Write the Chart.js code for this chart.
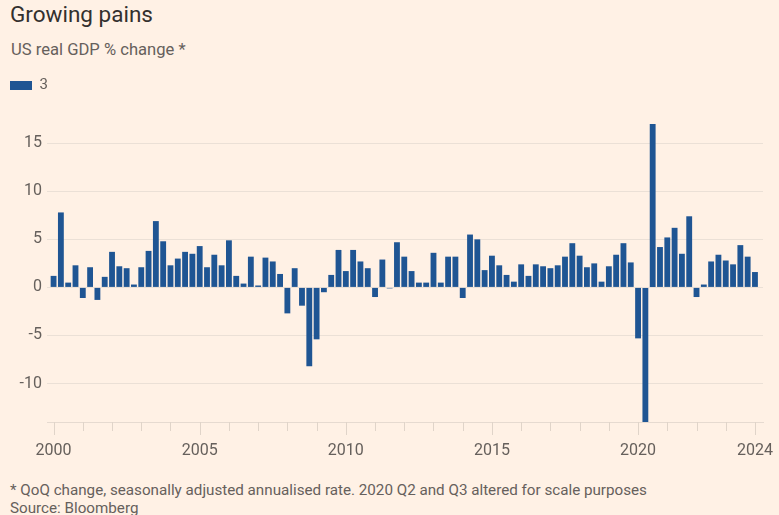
<!DOCTYPE html>
<html><head><meta charset="utf-8">
<script src="https://cdn.jsdelivr.net/npm/chart.js@4.4.1/dist/chart.umd.min.js"></script>
<style>
html,body{margin:0;padding:0;background:#fff1e5;}
body{width:779px;height:515px;overflow:hidden;position:relative;font-family:Roboto,"Noto Sans",sans-serif;}
#title{position:absolute;left:10px;top:1px;font-size:22.5px;color:#33302e;white-space:nowrap;}
#subtitle{position:absolute;left:11px;top:40px;font-size:16.6px;color:#66605c;white-space:nowrap;}
#chartbox{position:absolute;left:0;top:68px;width:779px;height:400px;}
#note{position:absolute;left:10px;top:481px;font-size:15.2px;color:#66605c;line-height:18px;white-space:nowrap;}
</style></head>
<body>
<div id="title">Growing pains</div>
<div id="subtitle">US real GDP % change *</div>
<div id="chartbox"><canvas id="c"></canvas></div>
<div id="note">* QoQ change, seasonally adjusted annualised rate. 2020 Q2 and Q3 altered for scale purposes<br>Source: Bloomberg</div>
<script>
// Quarterly categories 2000 Q1 .. 2024 Q1
const years = [2000,2001,2002,2003,2004,2005,2006,2007,2008,2009,2010,2011,2012,2013,2014,2015,2016,2017,2018,2019,2020,2021,2022,2023,2024];
const quarters = ['Q1','Q2','Q3','Q4'];
const categories = [];
years.forEach(y => quarters.forEach(q => { if (!(y === 2024 && q !== 'Q1')) categories.push(y + ' ' + q); }));

// US real GDP, QoQ annualised % change
const gdp = [
  1.2, 7.8, 0.5, 2.3,     // 2000
  -1.1, 2.1, -1.3, 1.1,   // 2001
  3.7, 2.2, 2.0, 0.3,     // 2002
  2.1, 3.8, 6.9, 4.8,     // 2003
  2.3, 3.0, 3.7, 3.5,     // 2004
  4.3, 2.1, 3.4, 2.3,     // 2005
  4.9, 1.2, 0.4, 3.2,     // 2006
  0.2, 3.1, 2.7, 1.4,     // 2007
  -2.7, 2.0, -1.9, -8.2,  // 2008
  -5.4, -0.5, 1.3, 3.9,   // 2009
  1.7, 3.9, 2.7, 2.0,     // 2010
  -1.0, 2.9, -0.1, 4.7,   // 2011
  3.2, 1.7, 0.5, 0.5,     // 2012
  3.6, 0.5, 3.2, 3.2,     // 2013
  -1.1, 5.5, 5.0, 1.8,    // 2014
  3.3, 2.3, 1.3, 0.6,     // 2015
  2.4, 1.2, 2.4, 2.2,     // 2016
  2.0, 2.3, 3.2, 4.6,     // 2017
  3.3, 2.1, 2.5, 0.6,     // 2018
  2.2, 3.4, 4.6, 2.6,     // 2019
  -5.3, -14.0, 17.0, 4.2, // 2020 (Q2, Q3 altered for scale)
  5.2, 6.2, 3.5, 7.4,     // 2021
  -1.0, 0.3, 2.7, 3.4,    // 2022
  2.8, 2.4, 4.4, 3.2,     // 2023
  1.6                     // 2024
];
const seriesLabel = '3';
const yTicks = [-10, -5, 0, 5, 10, 15];
const xTickLabels = ['2000', '2005', '2010', '2015', '2020', '2024'];

const barColor = '#1f5593';
const gridColor = '#ebe0d6';
const tickColor = '#e0d4c9';
const textColor = '#66605c';

function labelFor(v) {
  const c = categories[v];
  if (!c) return '';
  const y = c.slice(0, 4);
  return xTickLabels.includes(y) ? y : '';
}

// legend spacing + year tick marks on the x scale (longer for labelled years)
const yearTicks = {
  id: 'yearTicks',
  beforeInit(chart) {
    const lg = chart.legend;
    if (lg) {
      const fit = lg.fit;
      lg.fit = function () { fit.call(this); this.height += 21; };
    }
  },
  afterDraw(chart) {
    const s = chart.scales.x, ctx = chart.ctx;
    ctx.save();
    ctx.strokeStyle = tickColor;
    ctx.lineWidth = 1;
    s.ticks.forEach(t => {
      const px = Math.round(s.getPixelForValue(t.value)) + 0.5;
      const len = labelFor(t.value) ? 13 : 9;
      ctx.beginPath();
      ctx.moveTo(px, s.top);
      ctx.lineTo(px, s.top + len);
      ctx.stroke();
    });
    ctx.restore();
  }
};

new Chart(document.getElementById('c'), {
  type: 'bar',
  data: {
    labels: categories,
    datasets: [{
      label: seriesLabel,
      data: gdp.map((v, i) => ({ x: i, y: v })),
      backgroundColor: barColor,
      borderWidth: 0,
      barPercentage: 0.8,
      categoryPercentage: 1.0
    }]
  },
  plugins: [yearTicks],
  options: {
    responsive: true,
    maintainAspectRatio: false,
    animation: false,
    layout: { padding: { left: 0, right: 16, top: 0, bottom: 0 } },
    plugins: {
      legend: {
        display: true,
        position: 'top',
        align: 'start',
        labels: {
          boxWidth: 22, boxHeight: 9, padding: 10,
          color: textColor,
          font: { family: 'Roboto', size: 15 }
        }
      },
      tooltip: { enabled: false }
    },
    scales: {
      x: {
        type: 'linear',
        offset: false,
        min: -0.9,
        max: 97.1,
        afterBuildTicks: s => {
          s.ticks = years.map(y => ({ value: categories.indexOf(y + ' Q1') }));
        },
        afterFit: s => { s.height = 46; s.paddingLeft = 0; s.paddingRight = 0; },
        ticks: {
          autoSkip: false,
          maxRotation: 0,
          color: textColor,
          font: { family: 'Roboto', size: 16 },
          padding: 19,
          callback: v => labelFor(v)
        },
        grid: { drawOnChartArea: false, drawTicks: false, offset: false },
        border: { display: true, color: '#e6dad0' }
      },
      y: {
        min: -14,
        max: 17,
        afterBuildTicks: s => { s.ticks = yTicks.map(v => ({ value: v })); },
        afterFit: s => { s.width = 47; s.paddingTop = 0; s.paddingBottom = 0; },
        ticks: {
          color: textColor,
          font: { family: 'Roboto', size: 16 },
          padding: 5,
          callback: v => String(v)
        },
        grid: { color: gridColor, drawTicks: false },
        border: { display: false }
      }
    }
  }
});
</script>
</body></html>
